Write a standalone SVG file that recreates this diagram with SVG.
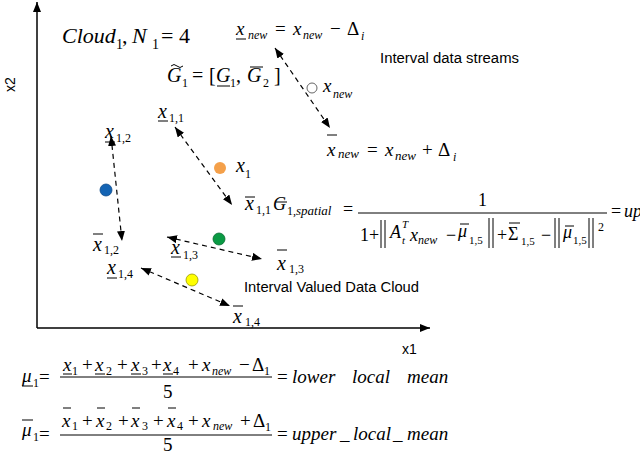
<svg xmlns="http://www.w3.org/2000/svg" width="640" height="455" viewBox="0 0 640 455">
<defs>
<style>
.i{font-family:"Liberation Serif",serif;font-style:italic;fill:#000}
.r{font-family:"Liberation Serif",serif;fill:#000}
.s{font-family:"Liberation Sans",sans-serif;font-size:14px;fill:#000}
.b{stroke:#000;stroke-width:1;fill:none}
.d{stroke:#000;stroke-width:1.2;stroke-dasharray:5,4;fill:none;marker-start:url(#ah);marker-end:url(#ah)}
.ax{stroke:#000;stroke-width:1.5;fill:none;marker-end:url(#ah)}
</style>
<marker id="ah" viewBox="0 0 10 8" refX="10" refY="4" markerWidth="10" markerHeight="8" markerUnits="userSpaceOnUse" orient="auto-start-reverse">
<path d="M0,0 L10,4 L0,8 z" fill="#000"/>
</marker>
</defs>
<rect width="640" height="455" fill="#fff"/>

<g id="axes">
<line class="ax" x1="37" y1="328" x2="37" y2="2"/>
<line class="ax" x1="37" y1="328" x2="430" y2="328"/>
<text class="s" x="402" y="354">x1</text>
<text class="s" transform="translate(15,92) rotate(-90)">x2</text>
</g>

<g id="connectors">
<line class="d" x1="275" y1="48" x2="330" y2="128"/>
<line class="d" x1="175" y1="127" x2="232" y2="205"/>
<line class="d" x1="111" y1="136" x2="122" y2="241"/>
<line class="d" x1="167" y1="237" x2="262" y2="259"/>
<line class="d" x1="141" y1="268" x2="230" y2="306"/>
</g>

<g id="cloud-title">
<text class="i" font-size="22" x="62" y="43">Cloud</text>
<text class="r" font-size="14" x="116" y="49">1</text>
<text class="r" font-size="22" x="122" y="43">,</text>
<text class="i" font-size="22" x="132" y="43">N</text>
<text class="r" font-size="14" x="152" y="49">1</text>
<text class="r" font-size="22" x="161" y="43">= 4</text>
</g>

<g id="xnew-lower">
<text class="i" font-size="19" x="236" y="35">x</text>
<line class="b" x1="236" y1="39" x2="246" y2="39"/>
<text class="i" font-size="12" x="248" y="39">new</text>
<text class="r" font-size="19" x="275" y="35">=</text>
<text class="i" font-size="19" x="293" y="35">x</text>
<text class="i" font-size="12" x="303" y="39">new</text>
<text class="r" font-size="19" x="330" y="35">−</text>
<text class="r" font-size="19" x="347" y="35">Δ</text>
<text class="i" font-size="12" x="361" y="40">i</text>
</g>

<g id="granule">
<path class="b" d="M171,66 q3,-3 6,0 t6,0"/>
<text class="i" font-size="20" x="167" y="82">G</text>
<text class="r" font-size="12" x="182" y="87">1</text>
<text class="r" font-size="20" x="192" y="82">=</text>
<text class="r" font-size="20" x="209" y="82">[</text>
<text class="i" font-size="20" x="216" y="82">G</text>
<line class="b" x1="217" y1="86" x2="230" y2="86"/>
<text class="r" font-size="12" x="230" y="87">1</text>
<text class="r" font-size="20" x="236" y="82">,</text>
<text class="i" font-size="20" x="247" y="82">G</text>
<line class="b" x1="250" y1="67" x2="263" y2="67"/>
<text class="r" font-size="12" x="263" y="87">2</text>
<text class="r" font-size="20" x="274" y="82">]</text>
</g>

<g id="xnew-point">
<circle cx="312" cy="88" r="5" fill="#fff" stroke="#666" stroke-width="1"/>
<text class="i" font-size="19" x="323" y="92">x</text>
<text class="i" font-size="12" x="333" y="98">new</text>
</g>

<g id="stream-label">
<text class="s" x="380" y="63" textLength="139" lengthAdjust="spacingAndGlyphs">Interval data streams</text>
</g>

<g id="xnew-upper">
<line class="b" x1="327" y1="135" x2="337" y2="135"/>
<text class="i" font-size="19" x="327" y="156">x</text>
<text class="i" font-size="13" x="338" y="158">new</text>
<text class="r" font-size="19" x="367" y="156">=</text>
<text class="i" font-size="19" x="385" y="156">x</text>
<text class="i" font-size="13" x="395" y="160">new</text>
<text class="r" font-size="19" x="422" y="156">+</text>
<text class="r" font-size="19" x="438" y="156">Δ</text>
<text class="i" font-size="12" x="453" y="161">i</text>
</g>

<g id="point1">
<circle cx="220" cy="168" r="6" fill="#f4a04a"/>
<text class="i" font-size="20" x="236" y="172">x</text>
<text class="r" font-size="12" x="245" y="178">1</text>
<text class="i" font-size="20" x="158" y="118">x</text>
<line class="b" x1="158" y1="121" x2="168" y2="121"/>
<text class="r" font-size="12" x="169" y="122">1,1</text>
<line class="b" x1="245" y1="197" x2="255" y2="197"/>
<text class="i" font-size="20" x="245" y="210">x</text>
<text class="r" font-size="12" x="256" y="214">1,1</text>
</g>

<g id="point2">
<circle cx="106" cy="190" r="6" fill="#1464b4" stroke="#0c4a8a" stroke-width="0.8"/>
<text class="i" font-size="20" x="105" y="138">x</text>
<line class="b" x1="105" y1="142" x2="115" y2="142"/>
<text class="r" font-size="12" x="116" y="142">1,2</text>
<line class="b" x1="93" y1="234" x2="103" y2="234"/>
<text class="i" font-size="20" x="93" y="251">x</text>
<text class="r" font-size="12" x="104" y="254">1,2</text>
</g>

<g id="point3">
<circle cx="219" cy="239" r="6" fill="#0a9a44" stroke="#076b30" stroke-width="0.8"/>
<text class="i" font-size="20" x="171" y="254">x</text>
<line class="b" x1="171" y1="257" x2="181" y2="257"/>
<text class="r" font-size="12" x="183" y="259">1,3</text>
<line class="b" x1="277" y1="250" x2="287" y2="250"/>
<text class="i" font-size="20" x="277" y="270">x</text>
<text class="r" font-size="12" x="289" y="273">1,3</text>
</g>

<g id="point4">
<circle cx="192" cy="280" r="6" fill="#ffff00" stroke="#999900" stroke-width="0.8"/>
<text class="i" font-size="20" x="107" y="274">x</text>
<line class="b" x1="107" y1="278" x2="117" y2="278"/>
<text class="r" font-size="12" x="118" y="278">1,4</text>
<line class="b" x1="233" y1="306" x2="243" y2="306"/>
<text class="i" font-size="20" x="233" y="323">x</text>
<text class="r" font-size="12" x="245" y="326">1,4</text>
</g>

<g id="cloud-label">
<text class="s" x="244" y="292" textLength="175" lengthAdjust="spacingAndGlyphs">Interval Valued Data Cloud</text>
</g>

<g id="spatial-eq">
<line class="b" x1="276" y1="202" x2="287" y2="202"/>
<text class="i" font-size="18" x="273" y="210">G</text>
<text class="r" font-size="12" x="287" y="215">1,</text>
<text class="i" font-size="13" x="296" y="215">spatial</text>
<text class="r" font-size="18" x="343" y="215">=</text>
<line class="b" x1="358" y1="213" x2="607" y2="213"/>
<text class="r" font-size="18" x="478" y="206">1</text>
<text class="r" font-size="18" x="360" y="241">1</text>
<text class="r" font-size="18" x="369" y="241">+</text>
<path class="b" d="M381,220V248M385,220V248M489,218V248M493,218V248M555,218V248M559,218V248M589,218V248M593,218V248"/>
<text class="i" font-size="18" x="390" y="238">A</text>
<text class="i" font-size="11" x="402" y="228">T</text>
<text class="i" font-size="11" x="402" y="244">t</text>
<text class="i" font-size="18" x="410" y="241">x</text>
<text class="i" font-size="12" x="418" y="244">new</text>
<text class="r" font-size="18" x="446" y="241">−</text>
<line class="b" x1="460" y1="224" x2="469" y2="224"/>
<text class="i" font-size="18" x="458" y="237">μ</text>
<text class="r" font-size="11" x="469" y="244">1,5</text>
<text class="r" font-size="18" x="497" y="241">+</text>
<line class="b" x1="509" y1="223" x2="520" y2="223"/>
<text class="r" font-size="18" x="508" y="240">Σ</text>
<text class="r" font-size="11" x="521" y="245">1,5</text>
<text class="r" font-size="18" x="541" y="241">−</text>
<line class="b" x1="565" y1="226" x2="574" y2="226"/>
<text class="i" font-size="18" x="563" y="238">μ</text>
<text class="r" font-size="11" x="573" y="244">1,5</text>
<text class="r" font-size="12" x="598" y="231">2</text>
<text class="r" font-size="18" x="611" y="217">=</text>
<text class="i" font-size="18" x="624" y="217">up</text>
</g>

<g id="lower-mean">
<text class="i" font-size="19" x="22" y="382">μ</text>
<line class="b" x1="22" y1="386" x2="33" y2="386"/>
<text class="r" font-size="12" x="33" y="387">1</text>
<text class="r" font-size="19" x="39" y="383">=</text>
<text class="i" font-size="19" x="63" y="371">x</text>
<text class="r" font-size="12" x="72" y="375">1</text>
<text class="r" font-size="19" x="82" y="371">+</text>
<text class="i" font-size="19" x="95" y="371">x</text>
<text class="r" font-size="12" x="106" y="375">2</text>
<text class="r" font-size="19" x="117" y="371">+</text>
<text class="i" font-size="19" x="131" y="371">x</text>
<text class="r" font-size="12" x="142" y="375">3</text>
<text class="r" font-size="19" x="151" y="371">+</text>
<text class="i" font-size="19" x="163" y="371">x</text>
<text class="r" font-size="12" x="173" y="375">4</text>
<text class="r" font-size="19" x="188" y="371">+</text>
<text class="i" font-size="19" x="202" y="371">x</text>
<text class="i" font-size="12" x="212" y="375">new</text>
<text class="r" font-size="19" x="239" y="371">−</text>
<text class="r" font-size="19" x="252" y="371">Δ</text>
<text class="r" font-size="12" x="264" y="375">1</text>
<path class="b" d="M63,374H72M95,374H105M131,374H141M163,374H173"/>
<line class="b" x1="60" y1="377" x2="272" y2="377"/>
<text class="r" font-size="19" x="163" y="398">5</text>
<text class="r" font-size="19" x="277" y="383">=</text>
<text class="i" font-size="19" x="292" y="383">lower</text>
<text class="i" font-size="19" x="352" y="383">local</text>
<text class="i" font-size="19" x="407" y="383">mean</text>
</g>

<g id="upper-mean">
<line class="b" x1="22" y1="420" x2="33" y2="420"/>
<text class="i" font-size="19" x="22" y="436">μ</text>
<text class="r" font-size="12" x="33" y="441">1</text>
<text class="r" font-size="19" x="39" y="440">=</text>
<path class="b" d="M63,408H71M97,408H105M132,408H140M168,408H176"/>
<text class="i" font-size="19" x="62" y="427">x</text>
<text class="r" font-size="12" x="72" y="430">1</text>
<text class="r" font-size="19" x="82" y="427">+</text>
<text class="i" font-size="19" x="96" y="427">x</text>
<text class="r" font-size="12" x="106" y="430">2</text>
<text class="r" font-size="19" x="118" y="427">+</text>
<text class="i" font-size="19" x="131" y="427">x</text>
<text class="r" font-size="12" x="142" y="430">3</text>
<text class="r" font-size="19" x="153" y="427">+</text>
<text class="i" font-size="19" x="167" y="427">x</text>
<text class="r" font-size="12" x="177" y="430">4</text>
<text class="r" font-size="19" x="188" y="427">+</text>
<text class="i" font-size="19" x="202" y="427">x</text>
<text class="i" font-size="12" x="213" y="430">new</text>
<text class="r" font-size="19" x="240" y="427">+</text>
<text class="r" font-size="19" x="253" y="427">Δ</text>
<text class="r" font-size="12" x="265" y="431">1</text>
<line class="b" x1="60" y1="435" x2="272" y2="435"/>
<text class="r" font-size="19" x="163" y="451">5</text>
<text class="r" font-size="19" x="277" y="440">=</text>
<text class="i" font-size="19" x="292" y="440">upper</text>
<text class="i" font-size="19" x="340" y="440">_</text>
<text class="i" font-size="19" x="353" y="440">local</text>
<text class="i" font-size="19" x="393" y="440">_</text>
<text class="i" font-size="19" x="407" y="440">mean</text>
</g>
</svg>
